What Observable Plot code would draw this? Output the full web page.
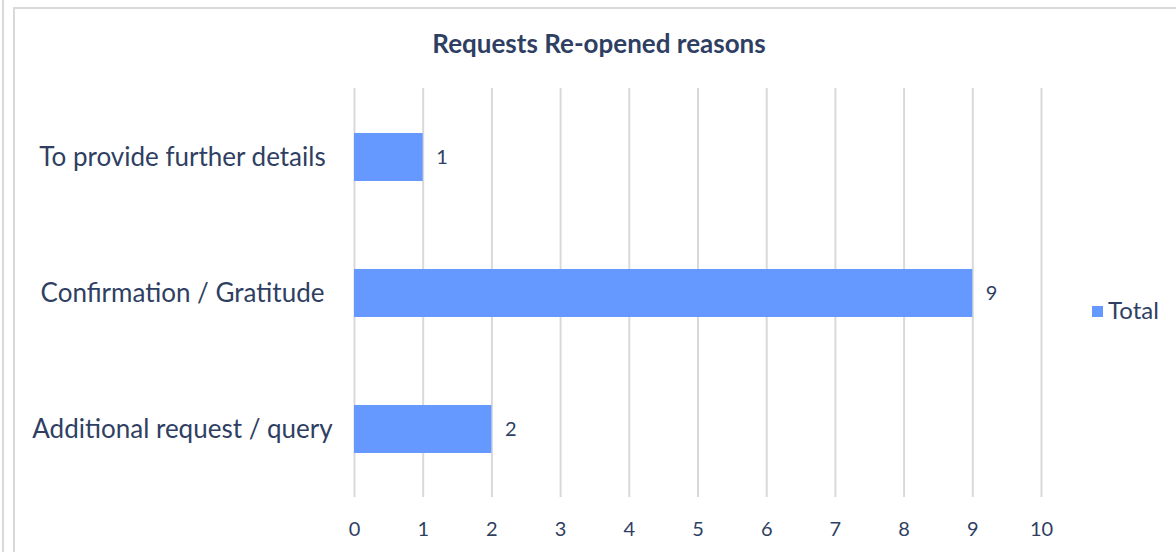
<!DOCTYPE html>
<html>
<head>
<meta charset="utf-8">
<script src="https://cdn.jsdelivr.net/npm/d3@7"></script>
<script src="https://cdn.jsdelivr.net/npm/@observablehq/plot@0.6"></script>
<style>
  html, body { margin: 0; padding: 0; background: #fff; }
  #wrap { position: relative; width: 1176px; height: 552px; overflow: hidden; font-family: Lato, sans-serif; }
  #leftline { position: absolute; left: 2px; top: 0; width: 2px; height: 552px; background: #d9d9d9; }
  #frame { position: absolute; left: 13px; top: 7px; width: 1200px; height: 600px; border: 2px solid #d9d9d9; box-sizing: border-box; }
  #title { position: absolute; left: 0; width: 1198px; top: 27px; line-height: 32px; text-align: center; font-weight: bold; font-size: 26px; color: #2f3f63; }
  #legend { position: absolute; left: 1092px; top: 294px; line-height: 32px; font-size: 24px; color: #2f3f63; display: flex; align-items: center; }
  #legend .sw { width: 11px; height: 11px; background: #6699ff; margin-right: 5px; margin-top: 2px; }
  #chart { position: absolute; left: 0; top: 0; }
</style>
</head>
<body>
<div id="wrap">
  <div id="leftline"></div>
  <div id="frame"></div>
  <div id="chart"></div>
  <div id="title"></div>
  <div id="legend"><div class="sw"></div><span id="legtext"></span></div>
</div>
<script>
const title = "Requests Re-opened reasons";
const seriesName = "Total";
const categories = ["To provide further details", "Confirmation / Gratitude", "Additional request / query"];
const values = [1, 9, 2];
const xTicks = [0, 1, 2, 3, 4, 5, 6, 7, 8, 9, 10];

const data = categories.map((c, i) => ({category: c, value: values[i]}));
const textColor = "#2f3f63";

document.getElementById("title").textContent = title;
document.getElementById("legtext").textContent = seriesName;

const chart = Plot.plot({
  width: 1176,
  height: 552,
  marginLeft: 354,
  marginRight: 135,
  marginTop: 88,
  marginBottom: 55,
  style: {fontFamily: "Lato, sans-serif", color: textColor, background: "transparent", overflow: "visible"},
  x: {domain: [0, 10], ticks: xTicks},
  y: {domain: categories, paddingInner: 0.648, paddingOuter: 0.324},
  marks: [
    Plot.gridX(xTicks, {stroke: "#d9d9d9", strokeOpacity: 1, strokeWidth: 2}),
    Plot.barX(data, {x: "value", y: "category", fill: "#6699ff"}),
    Plot.text(data, {x: "value", y: "category", text: d => String(d.value), textAnchor: "start", dx: 13, fontSize: 20, fill: textColor}),
    Plot.axisX({ticks: xTicks, tickSize: 0, tickPadding: 24, fontSize: 20, label: null, fill: textColor}),
    Plot.axisY({tickSize: 0, tickPadding: 172, textAnchor: "middle", fontSize: 26, label: null, fill: textColor})
  ]
});
document.getElementById("chart").appendChild(chart);
</script>
</body>
</html>
